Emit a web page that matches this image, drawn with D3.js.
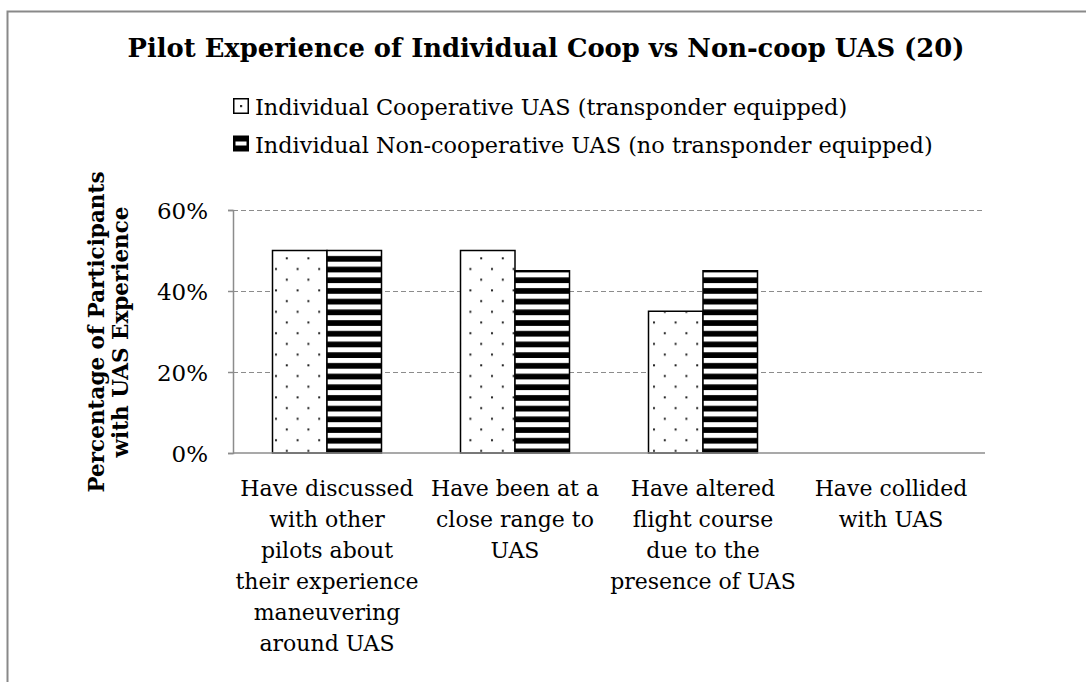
<!DOCTYPE html>
<html>
<head>
<meta charset="utf-8">
<script src="https://cdn.jsdelivr.net/npm/d3@7"></script>
<style>
  body { margin: 0; background: #fff; }
  text { font-family: "DejaVu Serif", serif; fill: #000; }
</style>
</head>
<body>
<div id="chart"></div>
<script>
// Pilot experience chart - grouped bars with pattern fills

const categories = [
    ['Have discussed', 'with other', 'pilots about', 'their experience', 'maneuvering', 'around UAS'],
    ['Have been at a', 'close range to', 'UAS'],
    ['Have altered', 'flight course', 'due to the', 'presence of UAS'],
    ['Have collided', 'with UAS']
];
const seriesNames = [
    'Individual Cooperative UAS (transponder equipped)',
    'Individual Non-cooperative UAS (no transponder equipped)'
];
const coopValues = [0.50, 0.50, 0.35, 0];
const nonCoopValues = [0.50, 0.45, 0.45, 0];
const yTicks = [0, 0.2, 0.4, 0.6];

const width = 1086, height = 682;
const plot = { left: 233, right: 985, top: 210, bottom: 453 };

const svg = d3.select('#chart')
    .append('svg')
    .attr('width', width)
    .attr('height', height);

const defs = svg.append('defs');

// dotted pattern
const dots = defs.append('pattern')
    .attr('id', 'dots')
    .attr('patternUnits', 'userSpaceOnUse')
    .attr('width', 21.6)
    .attr('height', 21.4)
    .attr('x', 275)
    .attr('y', 258);
dots.append('rect').attr('width', 21.6).attr('height', 21.4).attr('fill', '#fff');
dots.append('rect').attr('x', 0).attr('y', 10).attr('width', 2).attr('height', 2).attr('fill', '#222');
dots.append('rect').attr('x', 10.8).attr('y', -0.7).attr('width', 2).attr('height', 2).attr('fill', '#222');
dots.append('rect').attr('x', 10.8).attr('y', 20.7).attr('width', 2).attr('height', 2).attr('fill', '#222');

// horizontal stripes
const stripes = defs.append('pattern')
    .attr('id', 'stripes')
    .attr('patternUnits', 'userSpaceOnUse')
    .attr('width', 10)
    .attr('height', 10.7)
    .attr('y', 251);
stripes.append('rect').attr('width', 10).attr('height', 10.7).attr('fill', '#fff');
stripes.append('rect').attr('y', 5).attr('width', 10).attr('height', 5.7).attr('fill', '#000');

// outer frame (only left/top visible)
svg.append('rect')
    .attr('x', 7.5).attr('y', 11.5)
    .attr('width', 1200).attr('height', 800)
    .attr('fill', 'none')
    .attr('stroke', '#898989')
    .attr('stroke-width', 2);

svg.append('text')
    .attr('x', 546)
    .attr('y', 57)
    .attr('text-anchor', 'middle')
    .style('font-size', '25.8px')
    .style('font-weight', 'bold')
    .text('Pilot Experience of Individual Coop vs Non-coop UAS (20)');

// legend
const legend = svg.append('g');
seriesNames.forEach((name, i) => {
    const g = legend.append('g').attr('transform', `translate(233,${98 + i * 37.5})`);
    if (i === 0) {
        g.append('rect').attr('x', 0.75).attr('y', 0.75).attr('width', 14.5).attr('height', 14.5)
            .attr('fill', '#fff').attr('stroke', '#000').attr('stroke-width', 1.5);
        g.append('rect').attr('x', 7).attr('y', 7).attr('width', 2.2).attr('height', 2.2).attr('fill', '#333');
    } else {
        g.append('rect').attr('x', 0).attr('y', 0).attr('width', 16).attr('height', 16).attr('fill', '#000');
        g.append('rect').attr('x', 2.5).attr('y', 6).attr('width', 11).attr('height', 4).attr('fill', '#fff');
    }
    g.append('text')
        .attr('x', 22)
        .attr('y', 17)
        .style('font-size', '22.4px')
        .text(name);
});

const x0 = d3.scaleBand()
    .domain(d3.range(categories.length))
    .range([plot.left, plot.right]);

const x1 = d3.scaleBand()
    .domain([0, 1])
    .range([0, 109]);
const groupOffset = (x0.bandwidth() - 109) / 2;

const y = d3.scaleLinear()
    .domain([0, 0.6])
    .range([plot.bottom, plot.top]);

// gridlines
svg.append('g')
    .selectAll('line')
    .data(yTicks.filter(t => t > 0))
    .enter()
    .append('line')
    .attr('x1', plot.left)
    .attr('x2', plot.right)
    .attr('y1', d => Math.round(y(d)) + 0.5)
    .attr('y2', d => Math.round(y(d)) + 0.5)
    .attr('stroke', '#8c8c8c')
    .attr('stroke-width', 1)
    .attr('stroke-dasharray', '5,3');

// bars
const series = [coopValues, nonCoopValues];
const fills = ['url(#dots)', 'url(#stripes)'];
series.forEach((vals, s) => {
    svg.append('g')
        .selectAll('rect')
        .data(vals.map((v, i) => ({ v, i })).filter(d => d.v > 0))
        .enter()
        .append('rect')
        .attr('x', d => x0(d.i) + groupOffset + x1(s))
        .attr('y', d => y(d.v))
        .attr('width', x1.bandwidth())
        .attr('height', d => plot.bottom - y(d.v))
        .attr('fill', fills[s])
        .attr('stroke', '#000')
        .attr('stroke-width', 1.5);
});

// y axis
const yAxis = svg.append('g')
    .attr('transform', `translate(${plot.left},0)`)
    .call(d3.axisLeft(y).tickValues(yTicks).tickSize(5).tickPadding(20).tickFormat(d3.format('.0%')));
yAxis.select('.domain').attr('stroke', '#8c8c8c').attr('stroke-width', 1.5);
yAxis.selectAll('.tick line').attr('stroke', '#8c8c8c').attr('stroke-width', 1.5);
yAxis.selectAll('.tick text')
    .style('font-family', '"DejaVu Serif", serif')
    .style('font-size', '23px')
    .attr('dy', '0.36em');

// baseline
svg.append('line')
    .attr('x1', plot.left)
    .attr('x2', plot.right)
    .attr('y1', plot.bottom)
    .attr('y2', plot.bottom)
    .attr('stroke', '#8c8c8c')
    .attr('stroke-width', 1.5);

// category labels
categories.forEach((lines, i) => {
    const t = svg.append('text')
        .attr('text-anchor', 'middle')
        .style('font-size', '22px');
    lines.forEach((line, j) => {
        t.append('tspan')
            .attr('x', x0(i) + x0.bandwidth() / 2)
            .attr('y', 496 + j * 31)
            .text(line);
    });
});

// y axis title
const yTitle = svg.append('text')
    .attr('transform', 'translate(0,332) rotate(-90)')
    .attr('text-anchor', 'middle')
    .style('font-size', '21.5px')
    .style('font-weight', 'bold');
['Percentage of Participants', 'with UAS Experience'].forEach((line, j) => {
    yTitle.append('tspan').attr('x', 0).attr('y', 104 + j * 24).text(line);
});
</script>
</body>
</html>
